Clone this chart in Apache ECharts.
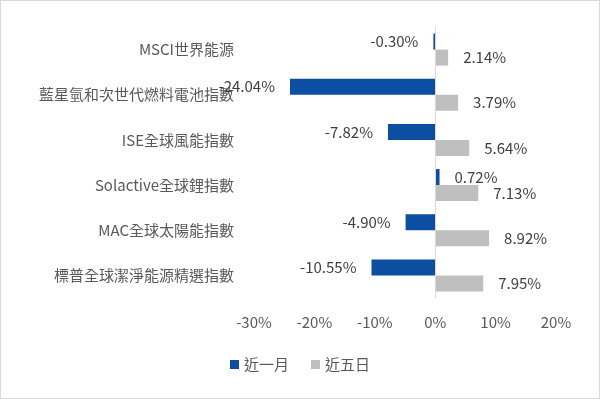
<!DOCTYPE html>
<html>
<head>
<meta charset="utf-8">
<script src="https://cdn.jsdelivr.net/npm/echarts@6/dist/echarts.min.js"></script>
<style>
  html, body { margin: 0; padding: 0; background: #fff; }
  #chart { width: 600px; height: 399px; box-sizing: border-box; border: 1px solid #d9d9d9; }
</style>
</head>
<body>
<div id="chart"></div>
<script>
// data
var categories = ['MSCI世界能源', '藍星氫和次世代燃料電池指數', 'ISE全球風能指數', 'Solactive全球鋰指數', 'MAC全球太陽能指數', '標普全球潔淨能源精選指數'];
var seriesNames = ['近一月', '近五日'];
var monthValues = [-0.30, -24.04, -7.82, 0.72, -4.90, -10.55];
var fiveDayValues = [2.14, 3.79, 5.64, 7.13, 8.92, 7.95];
var axisTicks = [-30, -20, -10, 0, 10, 20];

var fontFamily = '"Noto Sans CJK TC", "Noto Sans", sans-serif';

function withLabels(values) {
    return values.map(function (v) {
        return { value: v, label: { position: v < 0 ? 'left' : 'right' } };
    });
}

var dom = document.getElementById('chart');
var myChart = echarts.init(dom);

var labelStyle = {
    show: true,
    distance: 15,
    color: '#404040',
    fontSize: 15,
    fontFamily: fontFamily,
    formatter: function (p) { return p.value.toFixed(2) + '%'; }
};

var option = {
    animation: false,
    color: ['#0B4EA2', '#BFBFBF'],
    textStyle: { fontFamily: fontFamily },
    legend: {
        data: seriesNames,
        bottom: 21,
        left: 'center',
        icon: 'rect',
        itemWidth: 9,
        itemHeight: 9,
        itemGap: 22,
        textStyle: { color: '#595959', fontSize: 15, fontFamily: fontFamily }
    },
    grid: { left: 253, right: 43, top: 26, bottom: 100 },
    xAxis: {
        type: 'value',
        min: axisTicks[0],
        max: axisTicks[axisTicks.length - 1],
        interval: 10,
        axisLine: { show: false },
        axisTick: { show: false },
        splitLine: { show: false },
        axisLabel: {
            margin: 17,
            color: '#595959',
            fontSize: 15,
            fontFamily: fontFamily,
            formatter: '{value}%'
        }
    },
    yAxis: {
        type: 'category',
        inverse: true,
        data: categories,
        axisLine: { show: false, onZero: false },
        axisTick: { show: false },
        axisLabel: {
            margin: 20,
            color: '#595959',
            fontSize: 15,
            fontFamily: fontFamily
        }
    },
    series: [
        {
            name: seriesNames[0],
            type: 'bar',
            barWidth: 16,
            barGap: '0%',
            data: withLabels(monthValues),
            label: labelStyle,
            markLine: {
                silent: true,
                symbol: 'none',
                label: { show: false },
                lineStyle: { color: '#d9d9d9', type: 'solid', width: 1 },
                data: [{ xAxis: 0 }]
            }
        },
        {
            name: seriesNames[1],
            type: 'bar',
            barWidth: 16,
            barGap: '0%',
            data: withLabels(fiveDayValues),
            label: labelStyle
        }
    ]
};

myChart.setOption(option);
</script>
</body>
</html>
